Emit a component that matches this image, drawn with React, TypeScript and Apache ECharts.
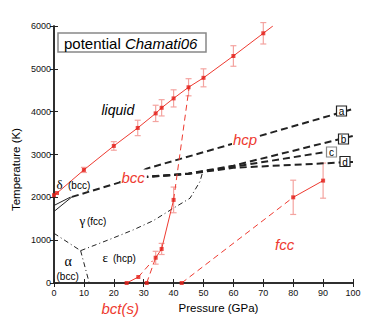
import React, { useEffect, useRef } from "react";
import * as echarts from "echarts";

// ---- data (P in GPa, T in K) ----
const meltP = [0, 1, 10, 20, 28, 34, 36, 40, 45, 50, 60, 70];
const meltT = [2050, 2100, 2640, 3200, 3620, 3960, 4090, 4310, 4570, 4790, 5300, 5830];
const meltErr = [0, 0, 60, 100, 180, 190, 190, 200, 200, 210, 240, 250];
const meltTail = [[70, 5830], [73.2, 6000]];

const bctSolidA = [[24.3, 0], [28.2, 140]];
const bctDashA = [[28.2, 140], [33, 520]];
const bctDashB = [[31, 0], [34, 590]];
const bctSolidB = [[34, 590], [36, 795], [40, 1940]];
const bctDashC = [[40, 1940], [45.2, 4570]];
const bctPtsP = [24.3, 28.2, 31, 34, 36, 40];
const bctPtsT = [0, 140, 0, 590, 795, 1940];
const bctErr = [0, 0, 0, 150, 130, 300];

const fccDash = [[42.7, 0], [80, 2000]];
const fccSolid = [[80, 2000], [90, 2390]];
const fccPtsP = [42.7, 80, 90];
const fccPtsT = [0, 2000, 2390];
const fccErr = [0, 400, 410];

const alphaGamma = [[0, 1160], [8.9, 755]];
const alphaEps = [[8.9, 755], [11.8, 0]];
const gammaEps = [[8.9, 755], [18.7, 1020], [26.5, 1240], [33.2, 1455], [39.9, 1745], [45.5, 1980], [48.8, 2367], [49.6, 2560]];
const deltaGammaA = [[0, 1670], [6, 2010]];
const deltaGammaB = [[0, 1810], [5.5, 2005]];

const lineA = [[6, 2010], [22, 2350], [31, 2670], [100, 4063]];
const lineB = [[22, 2350], [31, 2480], [45, 2555], [60, 2740], [100, 3435]];
const lineC = [[22, 2350], [31, 2478], [45, 2550], [60, 2712], [91, 3060]];
const lineD = [[22, 2350], [31, 2476], [45, 2548], [60, 2690], [100, 2827]];

const xTicks = { min: 0, max: 100, interval: 10 };
const yTicks = { min: 0, max: 6000, interval: 1000 };

const RED = "#ee3a30";
const RED_MK = "#e41e18";
const ERR = "#f4a4a0";
const BLK = "#222";
const SANS = "Liberation Sans, Arial, sans-serif";
const SERIF = "Liberation Serif, DejaVu Serif, serif";

function pts(P: number[], T: number[]) {
  return P.map((p, i) => [p, T[i]]);
}

function lineS(data: number[][], color: string, width: number, type: any, z = 3) {
  return {
    type: "line",
    data,
    symbol: "none",
    lineStyle: { color, width, type },
    z,
    silent: true,
  };
}

function markS(P: number[], T: number[]) {
  return {
    type: "scatter",
    data: pts(P, T),
    symbol: "rect",
    symbolSize: 4,
    itemStyle: { color: RED_MK },
    z: 6,
    silent: true,
  };
}

function errS(P: number[], T: number[], E: number[]) {
  return {
    type: "custom",
    data: P.map((p, i) => [p, T[i], E[i]]).filter((d) => d[2] > 0),
    encode: { x: 0, y: 1 },
    z: 2,
    silent: true,
    renderItem: (_params: any, api: any) => {
      const x = api.value(0);
      const y = api.value(1);
      const e = api.value(2);
      const top = api.coord([x, y + e]);
      const bot = api.coord([x, y - e]);
      const w = 3;
      const st = { stroke: ERR, lineWidth: 1.2 };
      return {
        type: "group",
        children: [
          { type: "line", shape: { x1: top[0], y1: top[1], x2: bot[0], y2: bot[1] }, style: st },
          { type: "line", shape: { x1: top[0] - w, y1: top[1], x2: top[0] + w, y2: top[1] }, style: st },
          { type: "line", shape: { x1: bot[0] - w, y1: bot[1], x2: bot[0] + w, y2: bot[1] }, style: st },
        ],
      };
    },
  };
}

function txt(x: number, y: number, text: string, font: string, fill = "#000", extra: any = {}) {
  return {
    type: "text",
    x,
    y,
    z: 50,
    silent: true,
    style: { text, font, fill, align: "left", verticalAlign: "middle", ...extra },
  };
}

function box(cx: number, cy: number, letter: string, stroke: string) {
  return {
    type: "group",
    z: 60,
    silent: true,
    children: [
      { type: "rect", z: 60, shape: { x: cx - 5, y: cy - 5, width: 10, height: 10 }, style: { fill: "#fff", stroke, lineWidth: 1.2 } },
      { type: "text", z: 61, x: cx, y: cy + 0.5, style: { text: letter, font: `10px ${SANS}`, fill: "#000", align: "center", verticalAlign: "middle" } },
    ],
  };
}

export default function App() {
  const ref = useRef<HTMLDivElement>(null);
  useEffect(() => {
    document.body.style.margin = "0";
    const chart = echarts.init(ref.current!, undefined, { renderer: "svg" });
    const axisLine = { show: true, lineStyle: { color: BLK, width: 1.5 } };
    const axisTick = { show: true, inside: true, length: 4, lineStyle: { color: BLK, width: 1 } };
    const plain = (v: number) => String(v);
    const option: any = {
      animation: false,
      backgroundColor: "#fff",
      grid: { left: 54, right: 29, top: 26, bottom: 40, containLabel: false },
      xAxis: [
        {
          type: "value", ...xTicks, position: "bottom",
          axisLine, axisTick, splitLine: { show: false },
          axisLabel: { fontSize: 9, color: "#111", fontFamily: SANS, margin: 5, formatter: plain },
        },
        {
          type: "value", ...xTicks, position: "top",
          axisLine, axisTick, splitLine: { show: false }, axisLabel: { show: false },
        },
      ],
      yAxis: [
        {
          type: "value", ...yTicks, position: "left",
          axisLine, axisTick, splitLine: { show: false },
          axisLabel: { fontSize: 9, color: "#111", fontFamily: SANS, margin: 3, formatter: plain },
        },
        {
          type: "value", ...yTicks, position: "right",
          axisLine, axisTick, splitLine: { show: false }, axisLabel: { show: false },
        },
      ],
      series: [
        // experimental boundaries (black)
        lineS(alphaGamma, BLK, 1, [5, 3, 1, 3]),
        lineS(alphaEps, BLK, 1, [5, 3, 1, 3]),
        lineS(gammaEps, BLK, 1, [5, 3, 1, 3]),
        lineS(deltaGammaA, BLK, 1, "solid"),
        lineS(deltaGammaB, BLK, 1, "solid"),
        lineS(lineA, BLK, 2, [7, 4]),
        lineS(lineB, BLK, 2, [7, 4]),
        lineS(lineC, BLK, 2, [7, 4]),
        lineS(lineD, BLK, 2, [7, 4]),
        // simulation (red)
        errS(meltP, meltT, meltErr),
        errS(bctPtsP, bctPtsT, bctErr),
        errS(fccPtsP, fccPtsT, fccErr),
        lineS(pts(meltP, meltT), RED, 1, "solid", 4),
        lineS(meltTail, RED, 1, "solid", 4),
        lineS(bctSolidA, RED, 1, "solid", 4),
        lineS(bctDashA, RED, 1, [6, 4], 4),
        lineS(bctDashB, RED, 1, [6, 4], 4),
        lineS(bctSolidB, RED, 1, "solid", 4),
        lineS(bctDashC, RED, 1, [6, 4], 4),
        lineS(fccDash, RED, 1, [6, 4], 4),
        lineS(fccSolid, RED, 1, "solid", 4),
        markS(meltP, meltT),
        markS(bctPtsP, bctPtsT),
        markS(fccPtsP, fccPtsT),
      ],
      graphic: [
        // title box
        {
          type: "rect", z: 70, silent: true,
          shape: { x: 58, y: 33, width: 148, height: 19 },
          style: { fill: "#fff", stroke: "#888", lineWidth: 1.5 },
        },
        {
          type: "text", z: 71, x: 64, y: 43, silent: true,
          style: {
            text: "{n|potential }{i|Chamati06}",
            verticalAlign: "middle",
            align: "left",
            rich: {
              n: { font: `15px ${SANS}`, fill: "#000" },
              i: { font: `italic 15px ${SANS}`, fill: "#000" },
            },
          },
        },
        // axis names
        { type: "text", z: 50, x: 218.5, y: 308, silent: true, style: { text: "Pressure (GPa)", font: `11.5px ${SANS}`, fill: "#000", align: "center", verticalAlign: "middle" } },
        { type: "text", z: 50, x: 16, y: 169.5, rotation: Math.PI / 2, silent: true, style: { text: "Temperature (K)", font: `11.5px ${SANS}`, fill: "#000", align: "center", verticalAlign: "middle" } },
        // region labels
        txt(101.5, 110, "liquid", `italic 14px ${SANS}`),
        txt(232, 139, "hcp", `italic 15px ${SANS}`, RED, { backgroundColor: "#fff", padding: [0, 2, 0, 1] }),
        txt(120.5, 177, "bcc", `italic 15px ${SANS}`, RED, { backgroundColor: "#fff", padding: [0, 2, 0, 1] }),
        txt(275, 244, "fcc", `italic 15px ${SANS}`, RED),
        txt(101.5, 308, "bct(s)", `italic 15px ${SANS}`, RED),
        txt(56.5, 184.5, "δ", `13px ${SERIF}`),
        txt(68, 185.5, "(bcc)", `10px ${SANS}`),
        txt(79.5, 220.5, "γ", `13px ${SERIF}`),
        txt(87, 221.5, "(fcc)", `10px ${SANS}`),
        txt(102.5, 257.5, "ε", `13px ${SERIF}`),
        txt(113, 258.5, "(hcp)", `10px ${SANS}`),
        txt(64.5, 261, "α", `14px ${SERIF}`),
        txt(56.5, 276, "(bcc)", `10px ${SANS}`),
        // line tags
        box(341.5, 111, "a", "#222"),
        box(343.5, 139, "b", "#222"),
        box(331.5, 152, "c", "#888"),
        box(345, 161.5, "d", "#222"),
      ],
    };
    chart.setOption(option);
    return () => chart.dispose();
  }, []);
  return <div ref={ref} style={{ width: 382, height: 323 }} />;
}
